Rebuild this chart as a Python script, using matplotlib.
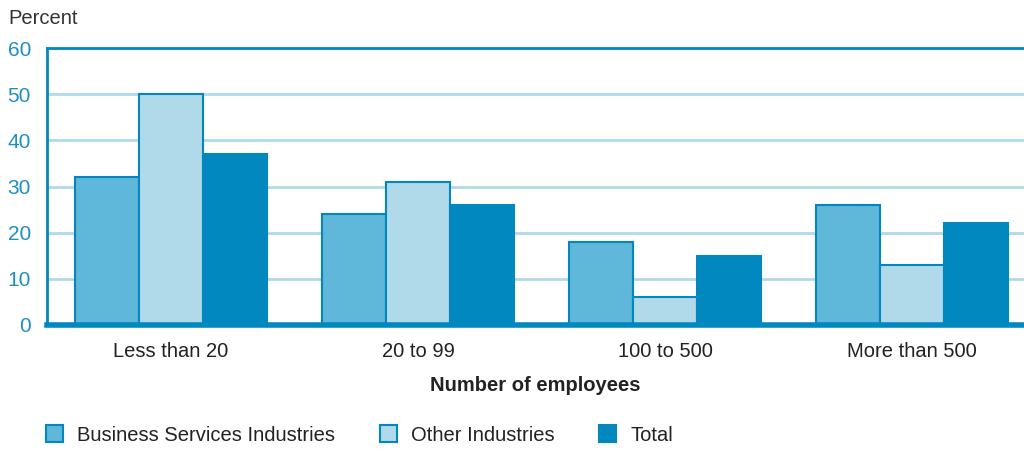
import numpy as np
import matplotlib
matplotlib.use("Agg")
from matplotlib import pyplot as plt
from matplotlib.patches import Patch

plt.rcParams['font.family'] = ['Liberation Sans', 'DejaVu Sans']

# employment share by firm size
groups = ["Less than 20", "20 to 99", "100 to 500", "More than 500"]
business = [32, 24, 18, 26]
other = [50, 31, 6, 13]
total = [37, 26, 15, 22]
series_names = ["Business Services Industries", "Other Industries", "Total"]
yticks = [0, 10, 20, 30, 40, 50, 60]

dark = "#0088bf"
mid = "#5fb7d9"
light = "#b0d9ea"
text_blue = "#1f8fc2"

fig = plt.figure(figsize=(10.24, 4.51), dpi=100)
ax = fig.add_axes([47 / 1024, 1 - 325 / 451, 1 - 47 / 1024, (325 - 48) / 451])

x = np.arange(len(groups))
w = 0.259
ax.bar(x - w, business, w, color=mid, edgecolor=dark, linewidth=1.5, zorder=3)
ax.bar(x, other, w, color=light, edgecolor=dark, linewidth=1.5, zorder=3)
ax.bar(x + w, total, w, color=dark, edgecolor=dark, linewidth=1.5, zorder=3)

ax.set_xlim(-0.502, 3.453)
ax.set_ylim(0, 60)
ax.set_yticks(yticks)
ax.set_xticks(x)
ax.set_xticklabels(groups)
ax.tick_params(axis='y', length=0, pad=11.5, labelsize=15, labelcolor=text_blue)
ax.tick_params(axis='x', length=0, pad=12, labelsize=14.5, labelcolor="#222222")

ax.yaxis.grid(True, color=light, linewidth=2, zorder=0)
ax.set_axisbelow(True)

ax.spines['right'].set_visible(False)
ax.spines['left'].set_color(dark)
ax.spines['left'].set_linewidth(2)
ax.spines['top'].set_color(dark)
ax.spines['top'].set_linewidth(2)
ax.spines['bottom'].set_color(dark)
ax.spines['bottom'].set_linewidth(4)
ax.spines['bottom'].set_zorder(4)

ax.set_xlabel("Number of employees", fontsize=14.5, fontweight='bold', color="#222222", labelpad=11)
fig.text(8 / 1024, 1 - 18 / 451, "Percent", fontsize=14.5, color="#333333", va='center')

handles = [Patch(facecolor=mid, edgecolor=dark, linewidth=1.5),
           Patch(facecolor=light, edgecolor=dark, linewidth=1.5),
           Patch(facecolor=dark, edgecolor=dark, linewidth=1.5)]
fig.legend(handles, series_names, loc='center left', bbox_to_anchor=(28 / 1024, 1 - 435 / 451),
           ncol=3, frameon=False, fontsize=14.5, handlelength=0.85, handleheight=0.85,
           columnspacing=2.2, handletextpad=0.7, labelcolor="#222222")

fig.savefig("out.png", dpi=100)
